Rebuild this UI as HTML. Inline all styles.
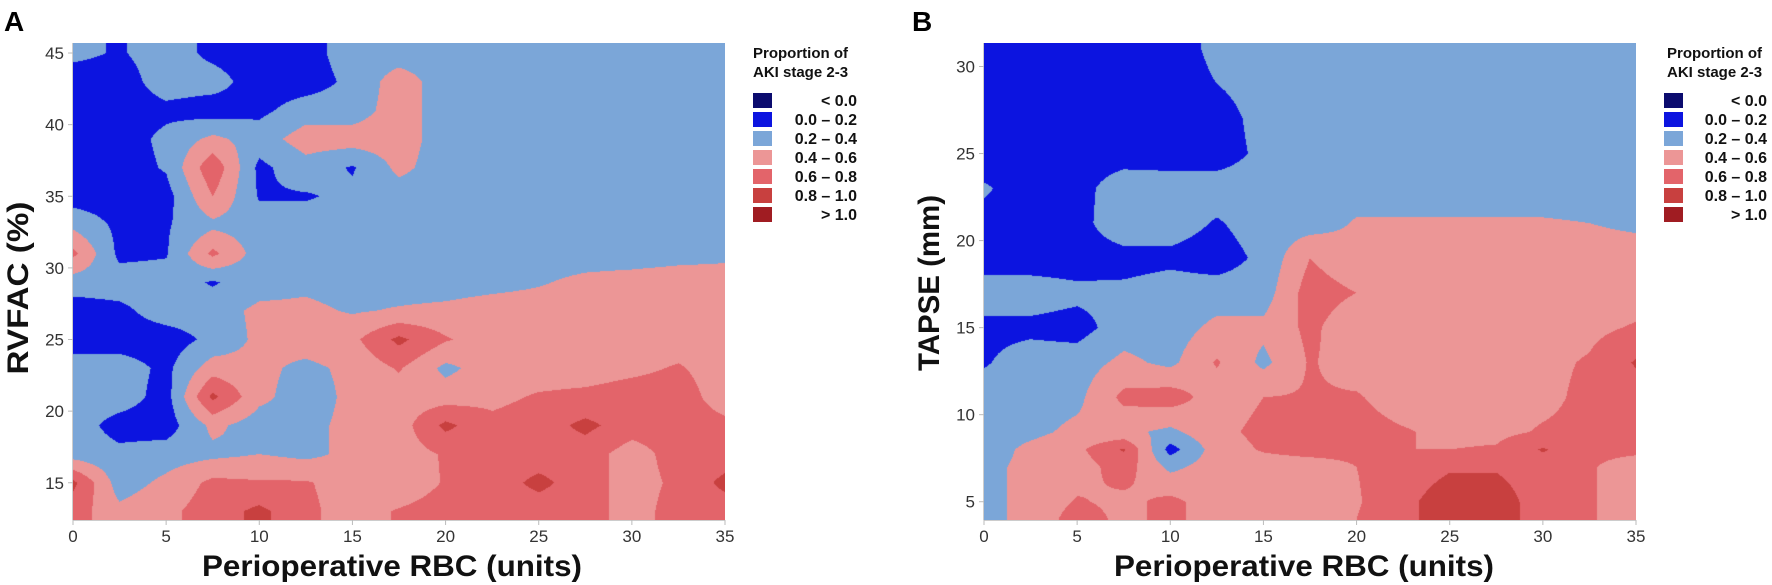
<!DOCTYPE html>
<html><head><meta charset="utf-8">
<style>
html,body{margin:0;padding:0;background:#fff;}
#wrap{position:relative;width:1772px;height:585px;overflow:hidden;font-family:"Liberation Sans",sans-serif;}
canvas{position:absolute;}
svg{position:absolute;left:0;top:0;}
</style></head>
<body>
<div id="wrap">
<canvas id="cA"></canvas>
<canvas id="cB"></canvas>
<svg id="ov" width="1772" height="585"></svg>
</div>
<script>
// ---- Panel A data (RVFAC vs RBC) ----
const xCatsA = [0,2.5,5,7.5,10,12.5,15,17.5,20,22.5,25,27.5,30,32.5,35];
const yRowsA = [45,43,41,39,37,35,33,31,29,27,25,23,21,19,17,15,13];
const gridA = [
 [.25,.18,.3,.15,.1,.12,.3,.3,.3,.3,.3,.3,.3,.3,.3],
 [.1,.1,.3,.28,.1,.1,.25,.5,.3,.3,.3,.3,.3,.3,.3],
 [.1,.1,.15,.1,.15,.3,.3,.5,.3,.3,.3,.3,.3,.3,.3],
 [.1,.1,.25,.45,.3,.5,.5,.5,.3,.3,.3,.3,.3,.3,.3],
 [.1,.1,.22,.75,.15,.32,.18,.45,.3,.3,.3,.3,.3,.3,.3],
 [.1,.1,.12,.6,.18,.18,.25,.3,.3,.3,.3,.3,.3,.3,.3],
 [.35,.15,.18,.35,.3,.3,.3,.3,.3,.3,.3,.3,.3,.3,.3],
 [.65,.15,.18,.65,.3,.3,.3,.3,.3,.3,.3,.3,.3,.33,.35],
 [.3,.3,.3,.18,.3,.35,.3,.3,.3,.33,.38,.45,.48,.5,.5],
 [.1,.15,.3,.3,.45,.45,.38,.42,.45,.5,.5,.5,.5,.5,.5],
 [.1,.1,.1,.25,.45,.5,.55,.85,.62,.5,.5,.5,.5,.5,.5],
 [.3,.3,.15,.5,.45,.35,.45,.62,.35,.5,.5,.5,.55,.62,.5],
 [.3,.3,.12,.85,.45,.3,.45,.5,.5,.55,.62,.65,.7,.7,.5],
 [.3,.12,.1,.45,.3,.35,.45,.5,.85,.65,.7,.85,.7,.7,.65],
 [.3,.25,.3,.35,.4,.35,.45,.5,.62,.7,.7,.7,.5,.7,.7],
 [.85,.3,.45,.65,.62,.62,.5,.45,.62,.7,.85,.7,.5,.65,.85],
 [.7,.45,.55,.7,.85,.65,.5,.62,.7,.7,.7,.7,.5,.7,.7]
];
const xTicksA = [0,5,10,15,20,25,30,35];
const yTicksA = [15,20,25,30,35,40,45];
// ---- Panel B data (TAPSE vs RBC) ----
const xCatsB = [0,2.5,5,7.5,10,12.5,15,17.5,20,22.5,25,27.5,30,32.5,35];
const yRowsB = [31,29,27,25,23,21,19,17,15,13,11,9,8,7,5,4];
const gridB = [
 [.1,.1,.1,.1,.1,.25,.3,.3,.3,.3,.3,.3,.3,.3,.3],
 [.1,.1,.1,.1,.1,.2,.3,.3,.3,.3,.3,.3,.3,.3,.3],
 [.1,.1,.1,.1,.1,.1,.28,.3,.3,.3,.3,.3,.3,.3,.3],
 [.1,.1,.1,.1,.1,.1,.25,.3,.3,.3,.3,.3,.3,.3,.3],
 [.22,.12,.12,.32,.3,.3,.3,.3,.3,.3,.3,.3,.3,.3,.3],
 [.15,.1,.12,.35,.3,.18,.3,.3,.42,.42,.42,.42,.42,.4,.38],
 [.1,.1,.1,.12,.15,.1,.25,.6,.45,.45,.45,.45,.45,.45,.45],
 [.3,.3,.25,.25,.3,.3,.3,.7,.6,.5,.5,.5,.5,.5,.5],
 [.15,.15,.12,.3,.3,.45,.45,.65,.45,.5,.5,.5,.5,.55,.62],
 [.18,.3,.3,.45,.35,.62,.35,.62,.5,.5,.5,.5,.55,.62,.82],
 [.3,.3,.35,.65,.7,.5,.6,.62,.62,.5,.5,.5,.55,.65,.7],
 [.3,.35,.45,.45,.35,.55,.65,.68,.68,.62,.55,.55,.62,.65,.7],
 [.3,.45,.55,.82,.12,.5,.62,.68,.65,.6,.6,.62,.82,.65,.65],
 [.35,.45,.5,.7,.35,.5,.5,.5,.6,.7,.78,.78,.7,.62,.5],
 [.35,.45,.62,.55,.65,.5,.5,.5,.58,.75,.9,.9,.7,.62,.5],
 [.35,.45,.7,.55,.65,.5,.5,.5,.6,.75,.9,.9,.7,.62,.5]
];
const xTicksB = [0,5,10,15,20,25,30,35];
const yTicksB = [5,10,15,20,25,30];
const legendLabels = ["< 0.0","0.0  \u2013  0.2","0.2  \u2013  0.4","0.4  \u2013  0.6","0.6  \u2013  0.8","0.8  \u2013  1.0","> 1.0"];
const legendColors = ["#0b0b6e","#0c14e0","#7ba6d8","#ec9696","#e3646a","#c8403f","#a01c22"];
const thresholds = [0,0.2,0.4,0.6,0.8,1.0];

const NS="http://www.w3.org/2000/svg";
const ov=document.getElementById('ov');
function el(tag,attrs,txt){const e=document.createElementNS(NS,tag);for(const k in attrs)e.setAttribute(k,attrs[k]);if(txt!==undefined)e.textContent=txt;ov.appendChild(e);return e;}
function hex(c){return [parseInt(c.substr(1,2),16),parseInt(c.substr(3,2),16),parseInt(c.substr(5,2),16)];}
const rgb=legendColors.map(hex);
function colorIdx(v){let i=0;while(i<thresholds.length&&v>=thresholds[i])i++;return i;}

function interp(xs,ys,g,x,y){
  let i=0;while(i<xs.length-2&&x>xs[i+1])i++;
  let j=0;while(j<ys.length-2&&y<ys[j+1])j++;
  let tx=(x-xs[i])/(xs[i+1]-xs[i]);tx=Math.max(0,Math.min(1,tx));
  let ty=(ys[j]-y)/(ys[j]-ys[j+1]);ty=Math.max(0,Math.min(1,ty));
  const a=g[j][i],b=g[j][i+1],c=g[j+1][i],d=g[j+1][i+1];
  return a*(1-tx)*(1-ty)+b*tx*(1-ty)+c*(1-tx)*ty+d*tx*ty;
}

function panel(cfg){
  const {cid,L,R,T,B,xmin,xmax,ymin,ymax,xs,ys,g,xt,yt,name}=cfg;
  const xScale=v=>L+(v-xmin)/(xmax-xmin)*(R-L);
  const yScale=v=>B-(v-ymin)/(ymax-ymin)*(B-T);
  const cv=document.getElementById(cid);
  const W=R-L,H=B-T;
  cv.width=W;cv.height=H;cv.style.left=L+'px';cv.style.top=T+'px';
  const ctx=cv.getContext('2d');const img=ctx.createImageData(W,H);
  for(let py=0;py<H;py++){
    const yv=ymax-(py+0.5)/H*(ymax-ymin);
    for(let px=0;px<W;px++){
      const xv=xmin+(px+0.5)/W*(xmax-xmin);
      const c=rgb[colorIdx(interp(xs,ys,g,xv,yv))];
      const o=(py*W+px)*4;img.data[o]=c[0];img.data[o+1]=c[1];img.data[o+2]=c[2];img.data[o+3]=255;
    }
  }
  ctx.putImageData(img,0,0);
  el('line',{x1:L-0.5,y1:T,x2:L-0.5,y2:B,stroke:'#ccc','stroke-width':1,});
  el('line',{x1:L,y1:B+0.5,x2:R,y2:B+0.5,stroke:'#ccc','stroke-width':1,});
  xt.forEach(v=>{
    const x=xScale(v);
    el('line',{x1:x,y1:B,x2:x,y2:B+5,stroke:'#bbb',});
    el('text',{x:x,y:B+22,'text-anchor':'middle','font-size':17,fill:'#333',},String(v));
  });
  yt.forEach(v=>{
    const y=yScale(v);
    el('line',{x1:L-5,y1:y,x2:L,y2:y,stroke:'#bbb',});
    el('text',{x:L-9,y:y+6,'text-anchor':'end','font-size':17,fill:'#333',},String(v));
  });
}
panel({cid:'cA',L:73,R:725,T:43,B:520,xmin:0,xmax:35,ymin:12.4,ymax:45.7,xs:xCatsA,ys:yRowsA,g:gridA,xt:xTicksA,yt:yTicksA,name:'panel-a'});
panel({cid:'cB',L:984,R:1636,T:43,B:520,xmin:0,xmax:35,ymin:3.95,ymax:31.35,xs:xCatsB,ys:yRowsB,g:gridB,xt:xTicksB,yt:yTicksB,name:'panel-b'});

function legend(x0,tx,endX,name){
  el('text',{x:tx,y:58,'font-size':15,'font-weight':'bold',fill:'#111',},'Proportion of');
  el('text',{x:tx,y:77,'font-size':15,'font-weight':'bold',fill:'#111',},'AKI stage 2-3');
  legendLabels.forEach((lab,i)=>{
    const y=93+i*19;
    el('rect',{x:x0,y:y,width:19,height:15,fill:legendColors[i],});
    el('text',{x:endX,y:y+13,'text-anchor':'end','font-size':16,'font-weight':'bold',fill:'#111','xml:space':'preserve',},lab);
  });
}
legend(753,753,857,'legend-a');
legend(1664,1667,1767,'legend-b');

el('text',{x:4,y:31,'font-size':28,'font-weight':'bold',fill:'#000',},'A');
el('text',{x:912,y:31,'font-size':28,'font-weight':'bold',fill:'#000',},'B');
el('text',{x:392,y:576,'text-anchor':'middle','font-size':30,'font-weight':'bold',fill:'#111',textLength:380,lengthAdjust:'spacingAndGlyphs','xml:space':'preserve',},'Perioperative RBC   (units)');
el('text',{x:1304,y:576,'text-anchor':'middle','font-size':30,'font-weight':'bold',fill:'#111',textLength:380,lengthAdjust:'spacingAndGlyphs','xml:space':'preserve',},'Perioperative RBC   (units)');
el('text',{x:0,y:0,transform:'translate(28,288) rotate(-90)','text-anchor':'middle','font-size':30,'font-weight':'bold',fill:'#111',textLength:173,lengthAdjust:'spacingAndGlyphs','xml:space':'preserve',},'RVFAC   (%)');
el('text',{x:0,y:0,transform:'translate(939,283) rotate(-90)','text-anchor':'middle','font-size':30,'font-weight':'bold',fill:'#111',textLength:176,lengthAdjust:'spacingAndGlyphs',},'TAPSE (mm)');
</script>
</body></html>
